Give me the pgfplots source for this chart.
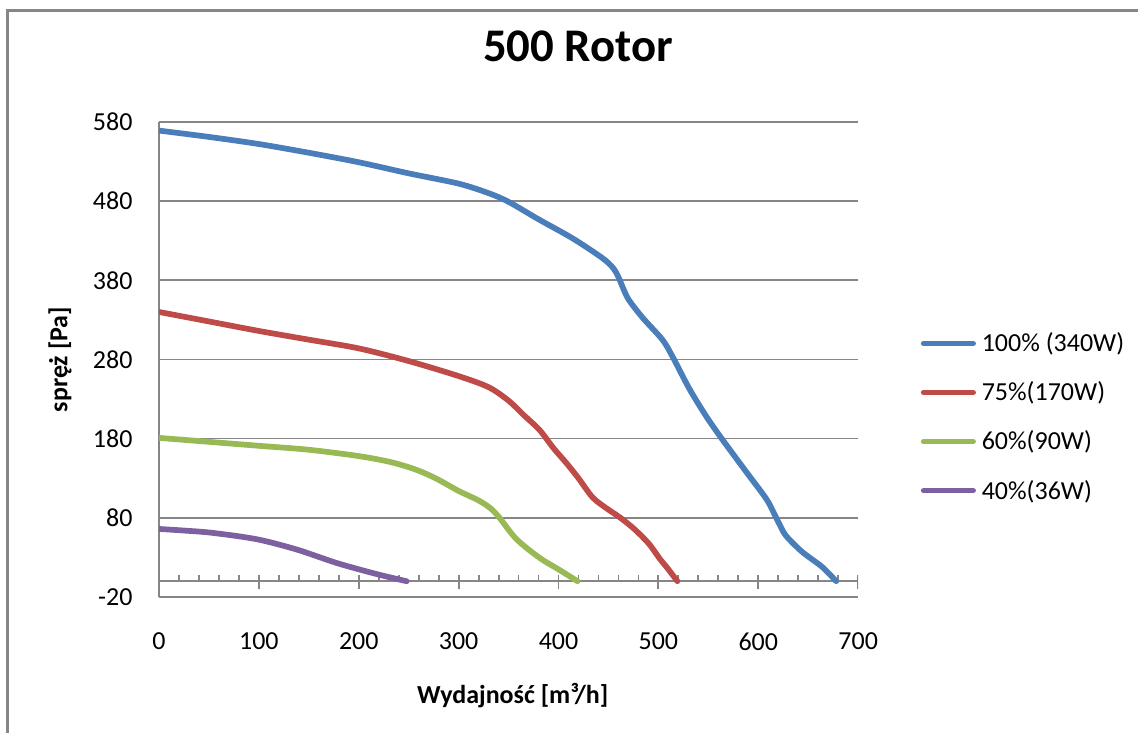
\documentclass[border=0pt]{standalone}
\usepackage{fontspec}
\setmainfont{Carlito}
\usepackage{pgfplots}
\pgfplotsset{compat=1.18}

\definecolor{gridgray}{RGB}{134,134,134}
\definecolor{c100}{HTML}{4A7EBB}
\definecolor{c75}{HTML}{BE4B48}
\definecolor{c60}{HTML}{98B954}
\definecolor{c40}{HTML}{7D60A0}

\begin{document}
\begin{tikzpicture}
\useasboundingbox (0,0) rectangle (438pt,282pt);
% outer chart frame (cut off at right and bottom)
\draw[gridgray, line width=1pt] (2.9pt,-5pt) -- (2.9pt,278pt) -- (445pt,278pt);
\begin{axis}[
    at={(61.2pt,52.2pt)}, anchor=south west,
    scale only axis, width=269.1pt, height=182.9pt,
    xmin=0, xmax=700, ymin=-20, ymax=580,
    xtick={0,100,...,700}, ytick={-20,80,...,580},
    axis lines*=left,
    axis line style={gridgray, line width=0.6pt, -},
    ymajorgrids, grid style={gridgray, line width=0.6pt},
    major tick length=0pt, tick style={draw=none},
    /pgf/number format/assume math mode=true,
    yticklabel style={xshift=-6.7pt},
    xticklabel style={yshift=-10.2pt},
    title={500 Rotor},
    title style={at={(axis description cs:0.5994,1.126)}, anchor=center,
        font=\bfseries\fontsize{18}{22}\selectfont},
    xlabel={Wydajność [m³/h]},
    xlabel style={at={(axis description cs:0.506,-0.2067)}, anchor=center, font=\bfseries},
    ylabel={spręż [Pa]},
    ylabel style={at={(axis description cs:-0.1416,0.5)}, anchor=center, font=\bfseries},
    legend style={at={(axis description cs:1.0897,0.5514)}, anchor=north west,
        draw=none, fill=none, inner sep=0pt, outer sep=0pt,
        row sep=12.37pt, column sep=2.25pt,
        nodes={inner sep=0pt, text height=6.5pt, text depth=0pt}},
    legend cell align=left,
    legend image code/.code={\draw[#1, line cap=round] (0pt,0pt) -- (19pt,0pt);},
    every axis plot/.append style={line width=2.2pt, line cap=round, line join=round, smooth},
]
% x axis crossing at 0 with its ticks
\draw[gridgray, line width=0.7pt] (axis cs:0,0) -- (axis cs:700,0);
\pgfplotsinvokeforeach{100,200,...,700}{
    \draw[gridgray, line width=0.7pt]
        ([yshift=-2.9pt]axis cs:#1,0) -- ([yshift=2.3pt]axis cs:#1,0);
}
\pgfplotsinvokeforeach{20,40,...,680}{
    \draw[gridgray, line width=0.7pt]
        (axis cs:#1,0) -- ([yshift=2.3pt]axis cs:#1,0);
}

\addplot[c100] coordinates {
    (0,569) (50,561) (100,552) (150,541) (200,529) (250,515) (300,502)
    (330,490) (350,479) (380,457) (414,433) (444,408) (455,395) (460,384)
    (464,372) (470,356) (484,333) (504,305) (514,284) (531,243) (548,208)
    (564,179) (588,138) (608,104) (616,85) (622,70) (628,57) (644,37)
    (664,18) (678,0)
};
\addlegendentry{100\% (340W)}

\addplot[c75] coordinates {
    (0,340) (50,328) (100,316) (150,305) (200,294) (250,278) (300,259)
    (330,245) (350,228) (365,210) (381,191) (395,168) (408,149) (420,130)
    (434,106) (447,93) (461,81) (474,68) (484,56) (492,45) (501,29)
    (510,15) (519,0)
};
\addlegendentry{75\%(170W)}

\addplot[c60] coordinates {
    (0,181) (50,176) (100,171) (150,166) (200,158) (230,151) (250,144)
    (265,137) (280,128) (300,114) (320,102) (332,92) (341,80) (350,65)
    (358,53) (370,40) (384,27) (400,15) (419,0)
};
\addlegendentry{60\%(90W)}

\addplot[c40] coordinates {
    (0,66) (25,64) (54,61) (98,53) (138,40) (178,23) (218,9) (248,0)
};
\addlegendentry{40\%(36W)}
\end{axis}
\end{tikzpicture}
\end{document}
